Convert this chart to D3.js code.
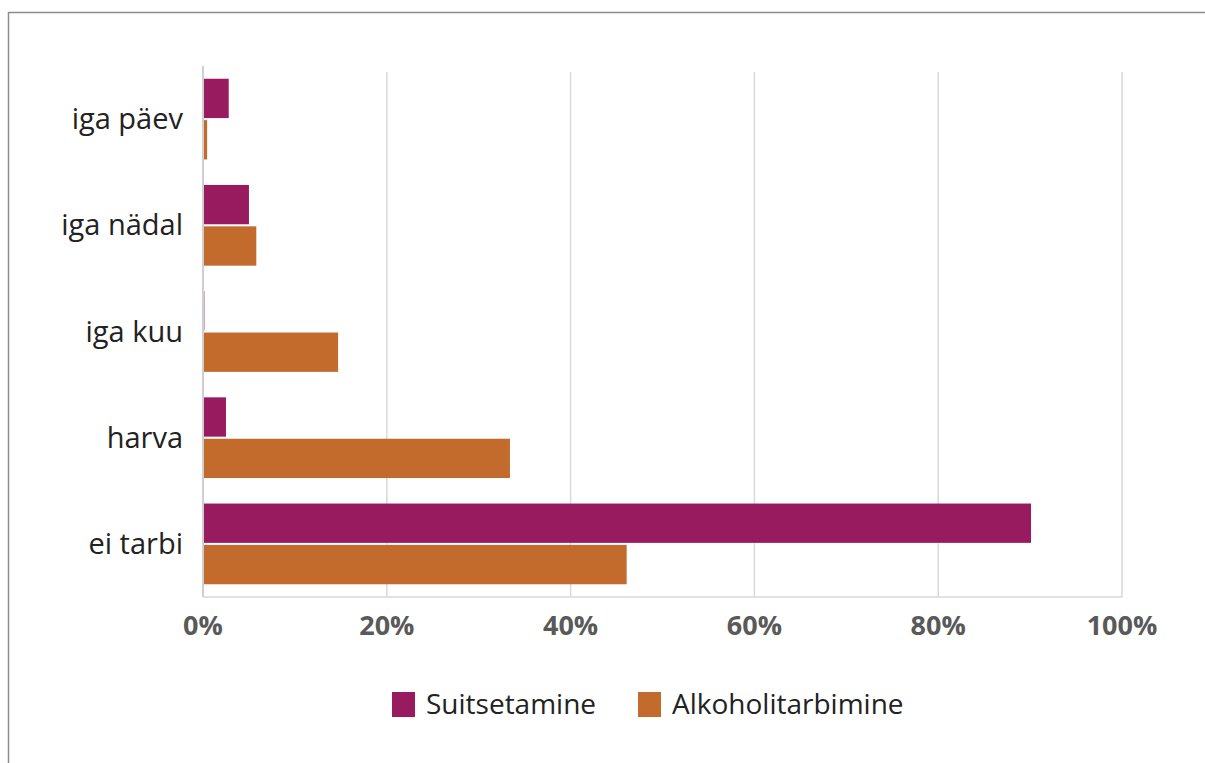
<!DOCTYPE html>
<html>
<head>
<meta charset="utf-8">
<script src="https://cdn.jsdelivr.net/npm/d3@7"></script>
<style>
  body { margin: 0; background: #fff; }
  svg { display: block; font-family: "Open Sans", "Noto Sans", sans-serif; }
</style>
</head>
<body>
<div id="chart"></div>
<script>
const categories = ['iga päev', 'iga nädal', 'iga kuu', 'harva', 'ei tarbi'];
const seriesNames = ['Suitsetamine', 'Alkoholitarbimine'];
const smoking = [2.8, 5.0, 0.15, 2.5, 90.1];
const alcohol = [0.45, 5.8, 14.7, 33.4, 46.1];
const ticks = [0, 20, 40, 60, 80, 100];
const colors = ['#991b5f', '#c36a2d'];

const width = 1205, height = 763;
const svg = d3.select('#chart').append('svg')
    .attr('width', width)
    .attr('height', height);

// outer frame (only top and left edges show)
svg.append('rect')
    .attr('x', 8.5).attr('y', 12.5)
    .attr('width', 1400).attr('height', 900)
    .attr('fill', 'none')
    .attr('stroke', '#8c8c8c')
    .attr('stroke-width', 1.5);

const plot = {left: 203, right: 1122, top: 66, bottom: 597};

const x = d3.scaleLinear().domain([0, 100]).range([plot.left, plot.right]);
const y = d3.scaleBand().domain(categories).range([plot.top, plot.bottom]).paddingInner(0.24).paddingOuter(0.12);
const inner = d3.scaleBand().domain(seriesNames).range([0, y.bandwidth()]).paddingInner(0.05);

// gridlines
svg.append('g').selectAll('line')
    .data(ticks.slice(1))
    .join('line')
    .attr('x1', d => x(d)).attr('x2', d => x(d))
    .attr('y1', 72).attr('y2', plot.bottom)
    .attr('stroke', '#d9d9d9')
    .attr('stroke-width', 1.5);

// bottom axis line
svg.append('line')
    .attr('x1', plot.left).attr('x2', plot.right)
    .attr('y1', plot.bottom).attr('y2', plot.bottom)
    .attr('stroke', '#d9d9d9')
    .attr('stroke-width', 1.5);

const rows = categories.map((c, i) => ({cat: c, vals: [smoking[i], alcohol[i]]}));

// bars
const groups = svg.append('g').selectAll('g')
    .data(rows)
    .join('g')
    .attr('transform', d => `translate(0,${y(d.cat)})`);

groups.selectAll('rect')
    .data(d => d.vals.map((v, j) => ({name: seriesNames[j], v: v, j: j})))
    .join('rect')
    .attr('x', x(0))
    .attr('y', d => inner(d.name))
    .attr('width', d => x(d.v) - x(0))
    .attr('height', inner.bandwidth())
    .attr('fill', d => colors[d.j]);

// left axis line
svg.append('line')
    .attr('x1', plot.left).attr('x2', plot.left)
    .attr('y1', 66).attr('y2', plot.bottom)
    .attr('stroke', '#cfcfcf')
    .attr('stroke-width', 2);

// category labels
svg.append('g').selectAll('text')
    .data(categories)
    .join('text')
    .attr('x', 183)
    .attr('y', d => y(d) + y.bandwidth() / 2)
    .attr('dy', '0.35em')
    .attr('text-anchor', 'end')
    .attr('font-size', 29)
    .attr('fill', '#222')
    .text(d => d);

// tick labels
svg.append('g').selectAll('text')
    .data(ticks)
    .join('text')
    .attr('x', d => x(d))
    .attr('y', 635)
    .attr('text-anchor', 'middle')
    .attr('font-size', 27)
    .attr('font-weight', 'bold')
    .attr('fill', '#595959')
    .text(d => d + '%');

// legend
const legendX = [392, 638];
const legend = svg.append('g').selectAll('g')
    .data(seriesNames)
    .join('g')
    .attr('transform', (d, i) => `translate(${legendX[i]},692)`);
legend.append('rect')
    .attr('width', 23).attr('height', 25)
    .attr('fill', (d, i) => colors[i]);
legend.append('text')
    .attr('x', 34).attr('y', 12.5)
    .attr('dy', '0.35em')
    .attr('font-size', 28)
    .attr('fill', '#222')
    .text(d => d);
</script>
</body>
</html>
